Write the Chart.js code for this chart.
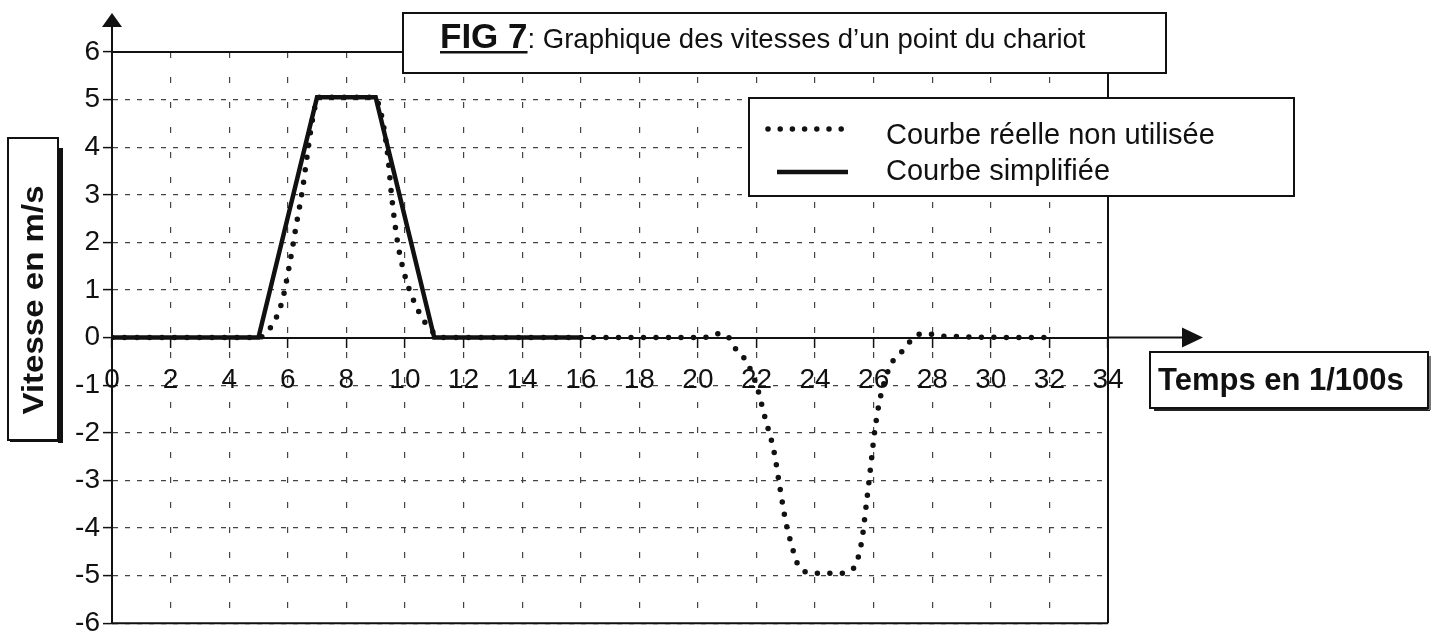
<!DOCTYPE html>
<html>
<head>
<meta charset="utf-8">
<title>FIG 7 - Graphique des vitesses</title>
<script src="https://cdn.jsdelivr.net/npm/chart.js@4/dist/chart.umd.min.js"></script>
<style>
  html, body { margin: 0; padding: 0; background: #fff; }
</style>
</head>
<body>
<canvas id="vitChart" width="1439" height="643"></canvas>
<script>
// ---- data ----
const xTickValues = [0, 2, 4, 6, 8, 10, 12, 14, 16, 18, 20, 22, 24, 26, 28, 30, 32, 34];
const yTickValues = [-6, -5, -4, -3, -2, -1, 0, 1, 2, 3, 4, 5, 6];

// courbe simplifiee (trait plein)
const simpleT = [0, 5, 7, 9, 11, 16];
const simpleV = [0, 0, 5.05, 5.05, 0, 0];

// courbe reelle non utilisee (pointilles)
const realT = [0, 5, 5.4, 5.8, 6.05, 6.3, 6.5, 6.68, 6.85, 7.05, 8.85, 9.1, 9.4, 9.55, 9.75, 10.0, 10.25, 10.6, 10.9, 11.3,
  20.2, 20.6, 21.0, 21.2, 21.5, 21.7, 22.0, 22.3, 22.6, 22.8, 23.0, 23.2, 23.4, 23.7, 24.0, 24.8, 25.2, 25.4, 25.6,
  25.75, 25.9, 26.05, 26.25, 26.6, 26.85, 27.1, 27.4, 27.8, 28.4, 32];
const realV = [0, 0, 0.2, 0.75, 1.5, 2.4, 3.1, 3.9, 4.6, 5.05, 5.05, 4.9, 3.9, 2.95, 2.0, 1.3, 0.85, 0.4, 0.15, 0,
  0, 0.08, 0.04, -0.17, -0.37, -0.55, -1.0, -1.7, -2.4, -3.15, -3.87, -4.36, -4.75, -4.93, -4.95, -4.95, -4.9, -4.75, -4.25,
  -3.5, -2.7, -1.9, -1.2, -0.55, -0.37, -0.2, 0.03, 0.08, 0.03, 0];

const seriesNames = ["Courbe réelle non utilisée", "Courbe simplifiée"];
const titleBold = "FIG 7";
const titleRest = ": Graphique des vitesses d\u2019un point du chariot";
const yTitle = "Vitesse en m/s";
const xTitle = "Temps en 1/100s";

const INK = "#111";
const FONT = "'Liberation Sans', Arial, sans-serif";

function toPoints(xs, ys) {
  return xs.map((t, i) => ({ x: t, y: ys[i] }));
}

// boxes, arrows and frame drawn on top of the chart
function drawBox(ctx, x, y, w, h) {
  ctx.fillStyle = "#fff";
  ctx.fillRect(x, y, w, h);
  ctx.strokeStyle = INK;
  ctx.lineWidth = 2;
  ctx.strokeRect(x, y, w, h);
}

const decorPlugin = {
  id: "decor",
  afterDraw(chart) {
    const { ctx, chartArea: a, scales: { x, y } } = chart;
    const y0 = y.getPixelForValue(0);
    ctx.save();
    ctx.strokeStyle = INK;
    ctx.fillStyle = INK;
    ctx.lineWidth = 2;

    // frame (top, right, bottom)
    ctx.beginPath();
    ctx.moveTo(a.left, a.top); ctx.lineTo(405, a.top);
    ctx.moveTo(a.right, 70); ctx.lineTo(a.right, a.bottom);
    ctx.moveTo(a.left, a.bottom); ctx.lineTo(a.right, a.bottom);
    ctx.stroke();

    // y arrow
    ctx.beginPath();
    ctx.moveTo(a.left, a.top); ctx.lineTo(a.left, 26);
    ctx.stroke();
    ctx.beginPath();
    ctx.moveTo(a.left, 13); ctx.lineTo(a.left - 10, 27); ctx.lineTo(a.left + 10, 27); ctx.closePath();
    ctx.fill();

    // x arrow
    ctx.beginPath();
    ctx.moveTo(a.right, y0); ctx.lineTo(1186, y0);
    ctx.stroke();
    ctx.beginPath();
    ctx.moveTo(1203, y0); ctx.lineTo(1182, y0 - 10); ctx.lineTo(1182, y0 + 10); ctx.closePath();
    ctx.fill();

    // title box
    drawBox(ctx, 403, 13, 763, 60);
    ctx.fillStyle = INK;
    ctx.textBaseline = "alphabetic";
    ctx.textAlign = "left";
    ctx.font = "bold 35px " + FONT;
    ctx.fillText(titleBold, 440, 48);
    const wBold = ctx.measureText(titleBold).width;
    ctx.fillRect(440, 51, wBold, 2.5);
    ctx.font = "27.5px " + FONT;
    ctx.fillText(titleRest, 440 + wBold, 48);

    // legend box
    drawBox(ctx, 749, 98, 545, 98);
    const ds = chart.data.datasets;
    ctx.font = "29px " + FONT;
    ctx.fillStyle = INK;
    ctx.fillText(ds[0].label, 886, 144);
    ctx.fillText(ds[1].label, 886, 180);
    ctx.beginPath();
    ctx.lineCap = "round";
    ctx.lineWidth = ds[0].borderWidth;
    ctx.setLineDash([0, 12.2]);
    ctx.moveTo(768, 129); ctx.lineTo(842, 129);
    ctx.stroke();
    ctx.setLineDash([]);
    ctx.lineCap = "butt";
    ctx.lineWidth = ds[1].borderWidth;
    ctx.beginPath();
    ctx.moveTo(777, 172); ctx.lineTo(848, 172);
    ctx.stroke();

    // x title box with shadow
    ctx.fillStyle = "#222";
    ctx.fillRect(1154, 407, 276, 4);
    ctx.fillStyle = "#777";
    ctx.fillRect(1428, 356, 3, 54);
    drawBox(ctx, 1150, 352, 278, 56);
    ctx.fillStyle = INK;
    ctx.font = "bold 31px " + FONT;
    ctx.fillText(xTitle, 1158, 390);

    // y title box with shadow
    ctx.fillStyle = INK;
    ctx.fillRect(58, 148, 5, 295);
    ctx.fillRect(10, 440, 52, 2);
    drawBox(ctx, 8, 138, 50, 302);
    ctx.save();
    ctx.translate(43, 300);
    ctx.rotate(-Math.PI / 2);
    ctx.scale(1.14, 1);
    ctx.font = "bold 29px " + FONT;
    ctx.textAlign = "center";
    ctx.fillStyle = INK;
    ctx.fillText(yTitle, 0, 0);
    ctx.restore();

    ctx.restore();
  }
};

new Chart(document.getElementById("vitChart"), {
  type: "line",
  data: {
    datasets: [
      {
        label: seriesNames[0],
        data: toPoints(realT, realV),
        borderColor: INK,
        borderWidth: 5.5,
        borderDash: [0, 12.5],
        borderCapStyle: "round",
        cubicInterpolationMode: "monotone",
        pointRadius: 0,
        fill: false
      },
      {
        label: seriesNames[1],
        data: toPoints(simpleT, simpleV),
        borderColor: INK,
        borderWidth: 4.5,
        tension: 0,
        pointRadius: 0,
        fill: false
      }
    ]
  },
  options: {
    responsive: false,
    animation: false,
    events: [],
    layout: { padding: { left: 0, right: 331, top: 52, bottom: 9 } },
    plugins: {
      legend: { display: false },
      tooltip: { enabled: false },
      title: { display: false }
    },
    scales: {
      x: {
        type: "linear",
        position: { y: 0 },
        min: 0,
        max: 34,
        afterBuildTicks: (scale) => { scale.ticks = xTickValues.map(v => ({ value: v })); },
        grid: {
          color: "#444",
          lineWidth: 1.2,
          borderDash: [6, 19],
          tickLength: 9,
          tickColor: INK,
          tickWidth: 1.5,
          tickBorderDash: []
        },
        border: { display: true, color: INK, width: 2, dash: [6, 19] },
        ticks: {
          color: INK,
          font: { family: FONT, size: 28 },
          padding: 17,
          maxRotation: 0,
          autoSkip: false
        }
      },
      y: {
        type: "linear",
        min: -6,
        max: 6,
        afterBuildTicks: (scale) => { scale.ticks = yTickValues.map(v => ({ value: v })); },
        afterFit: (scale) => { scale.width = 112; },
        grid: {
          color: "#444",
          lineWidth: 1.2,
          borderDash: [5, 7],
          tickLength: 9,
          tickColor: INK,
          tickWidth: 1.5,
          tickBorderDash: []
        },
        border: { display: true, color: INK, width: 2, dash: [5, 7] },
        ticks: {
          color: INK,
          font: { family: FONT, size: 28 },
          padding: 3,
          autoSkip: false
        }
      }
    }
  },
  plugins: [decorPlugin]
});
</script>
</body>
</html>
